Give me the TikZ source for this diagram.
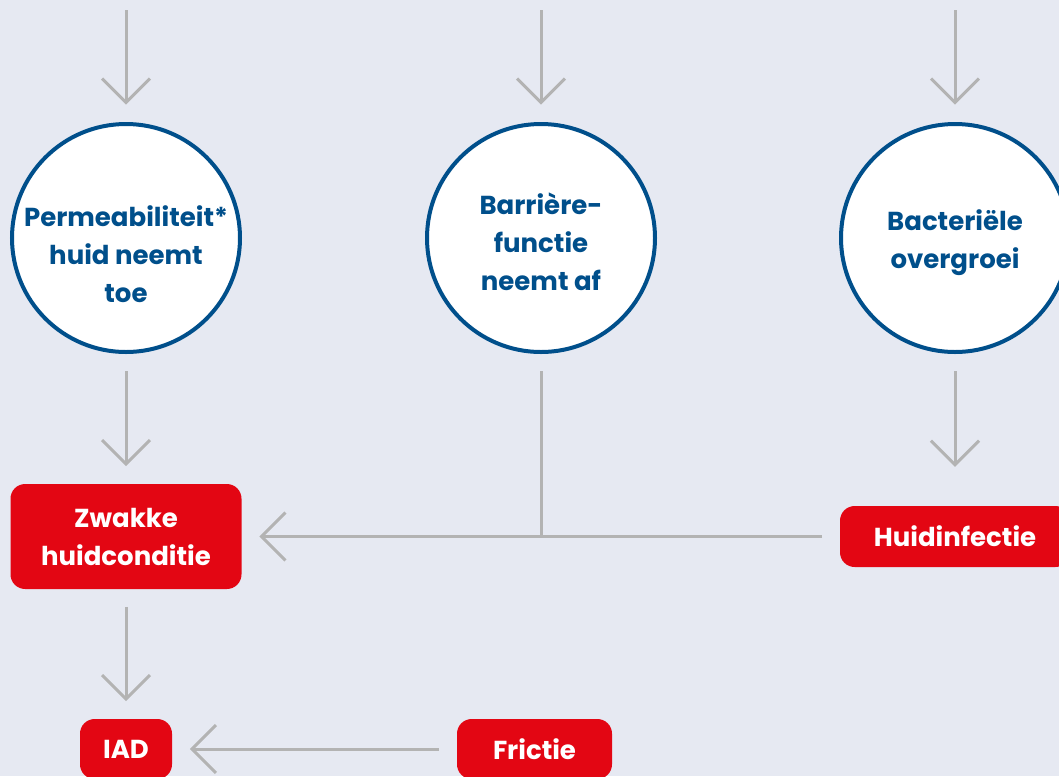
\documentclass[tikz,border=0pt]{standalone}
\usepackage{fontspec}
\setmainfont{Poppins}
\usetikzlibrary{arrows.meta}

\definecolor{bgblue}{RGB}{230,233,242}
\definecolor{dkblue}{RGB}{0,79,139}
\definecolor{iadred}{RGB}{227,6,19}
\definecolor{arrgray}{RGB}{179,179,179}

\tikzset{every picture/.style={line width=0.75pt}}
\tikzset{
  bubble/.style={circle, draw=dkblue, line width=3pt, fill=white, minimum size=171pt, inner sep=0pt},
  bubbletext/.style={text=dkblue, font=\fontsize{19.5}{28.5}\selectfont\bfseries, align=center, inner sep=0pt},
  redbox/.style={rounded corners=11pt, fill=iadred, text=white, font=\fontsize{19.5}{28.5}\selectfont\bfseries, align=center, inner sep=0pt},
  link/.style={draw=arrgray, line width=2.25pt, shorten <=13pt},
  flow/.style={link, shorten >=13pt, -{Straight Barb[length=18pt,width=36pt]}},
}

\begin{document}
\begin{tikzpicture}[x=0.75pt,y=0.75pt,yscale=-1,xscale=1]
        \useasboundingbox (0,0) rectangle (1059,776);
        \fill [bgblue] (0,0) rectangle (1059,776);

        % Circles
        \node [bubble] (perm) at (126,238) {};
        \node [bubble] (barr) at (541,238) {};
        \node [bubble] (bact) at (955,238) {};
        \node [bubbletext] (permtxt) at (126,254) {Permeabiliteit*\\huid neemt\\toe};
        \node [bubbletext] (barrtxt) at (541,242) {Barrière-\\functie\\neemt af};
        \node [bubbletext] (bacttxt) at (955,243) {Bacteriële\\overgroei};

        % Red boxes
        \node [redbox, minimum width=173.25pt, minimum height=78.75pt] (zwak) at (126,536.5) {Zwakke\\huidconditie};
        \node [redbox, minimum width=172.5pt, minimum height=45.75pt] (infect) at (955,536.5) {Huidinfectie};
        \node [redbox, minimum width=69pt, minimum height=45pt] (iad) at (126,749) {IAD};
        \node [redbox, minimum width=116.25pt, minimum height=45pt] (fric) at (534.5,749) {Frictie};

        % Incoming arrows
        \coordinate (in1) at (126,10);
        \coordinate (in2) at (541,10);
        \coordinate (in3) at (955,10);
        \draw [flow, shorten <=0pt] (in1) -- (perm);
        \draw [flow, shorten <=0pt] (in2) -- (barr);
        \draw [flow, shorten <=0pt] (in3) -- (bact);

        % Arrows between nodes
        \coordinate (join) at (541,536.5);
        \draw [flow] (perm) -- (zwak);
        \draw [flow, shorten >=29pt] (bact) -- (infect);
        \draw [link] (barr) -- (join);
        \draw [flow] (infect) -- (zwak);
        \draw [flow] (zwak) -- (iad);
        \draw [flow] (fric) -- (iad);

\end{tikzpicture}
\end{document}
